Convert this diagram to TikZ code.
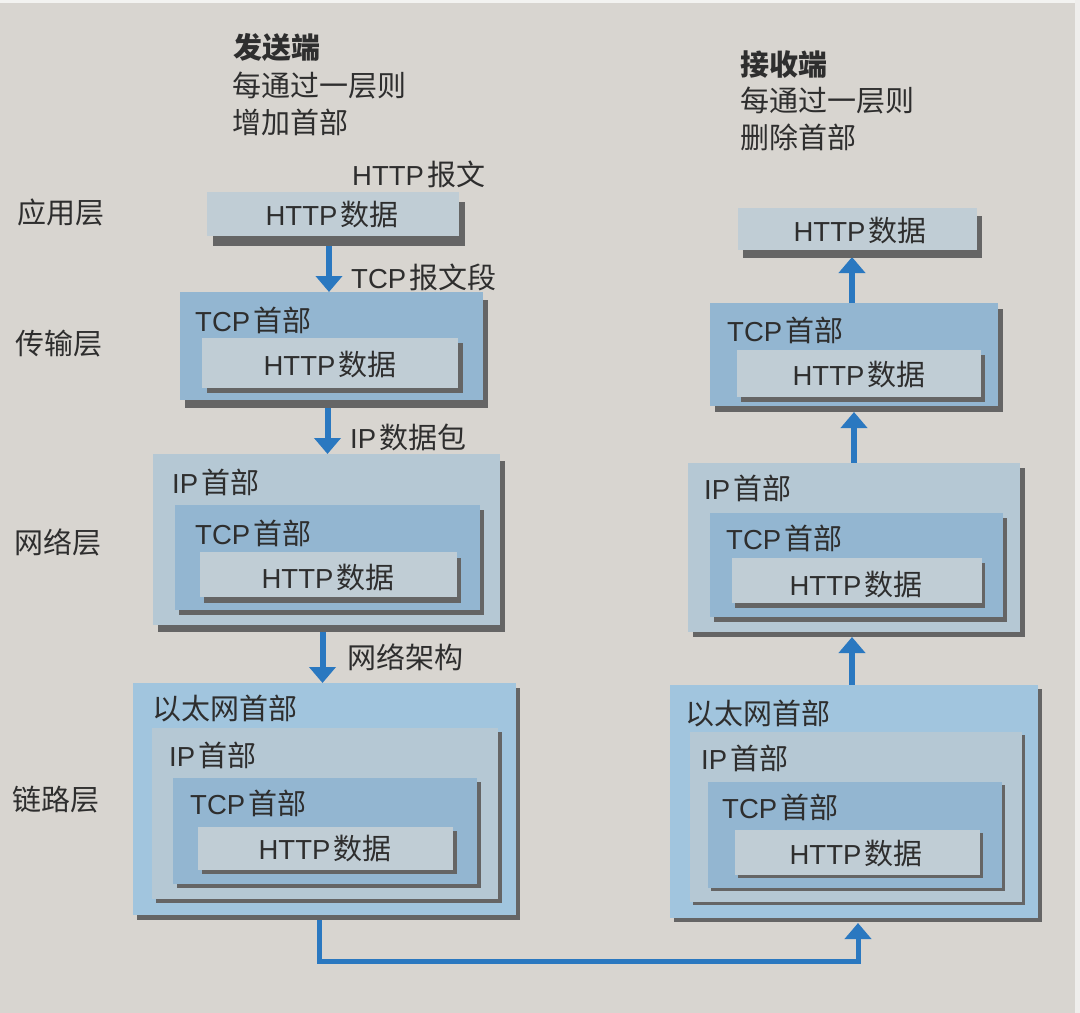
\documentclass[tikz,border=0pt]{standalone}
\usepackage{fontspec}
\setmainfont{Noto Sans CJK SC}
\newfontfamily\latf{Liberation Sans}
\usetikzlibrary{arrows.meta,calc}
\definecolor{bgc}{HTML}{D8D5D0}
\definecolor{shc}{HTML}{656565}
\definecolor{httpc}{HTML}{C0CDD5}
\definecolor{tcpc}{HTML}{93B6D1}
\definecolor{ipc}{HTML}{B5C8D4}
\definecolor{ethc}{HTML}{A1C5DE}
\definecolor{arrc}{HTML}{2A78C0}
\definecolor{txtc}{HTML}{2E2E2E}
\pgfdeclarelayer{back}
\pgfdeclarelayer{bg}
\pgfsetlayers{back,bg,main}
\newcommand\lt[1]{{\latf\fontsize{27.5}{31}\selectfont #1}}
% name, x1, y1, x2, y2, fill, shadow dx, shadow dy
\newcommand\pbox[8]{%
  \fill[shc] ({#2+#7},{#3+#8}) rectangle ({#4+#7},{#5+#8});
  \node[box, fill=#6, minimum width={(#4-#2)*1pt}, minimum height={(#5-#3)*1pt}, anchor=north west] (#1) at (#2,#3) {};
}
\begin{document}
\begin{tikzpicture}[x=1pt,y=-1pt,
  box/.style={draw=none, inner sep=0pt, outer sep=0pt},
  lbl/.style={text=txtc, inner sep=0pt, font=\fontsize{29}{34}\selectfont},
  arr/.style={arrc, line width=6pt, -{Triangle[width=26pt,length=16pt]}},
  conn/.style={arrc, line width=5pt, -{Triangle[width=26pt,length=16pt]}}]
\useasboundingbox (0,0) rectangle (1080,1013);
\begin{pgfonlayer}{back}
  \fill[bgc] (0,0) rectangle (1080,1013);
  \fill[white!70!bgc] (0,0) rectangle (1080,3);
  \fill[white!60!bgc] (1075,0) rectangle (1080,1013);
\end{pgfonlayer}

% ---- sender header texts
\node[lbl, anchor=west] (snd1) at (233,48) {\bfseries 发送端};
\node[lbl, anchor=west] (snd2) at (232,86) {每通过一层则};
\node[lbl, anchor=west] (snd3) at (232,122) {增加首部};
\node[lbl, anchor=west] (msg) at (352,174) {\lt{HTTP}\hspace{3pt}报文};

% ---- receiver header texts
\node[lbl, anchor=west] (rcv1) at (740,65) {\bfseries 接收端};
\node[lbl, anchor=west] (rcv2) at (740,101) {每通过一层则};
\node[lbl, anchor=west] (rcv3) at (740,137) {删除首部};

% ---- layer names
\node[lbl, anchor=west] (lay1) at (17,212) {应用层};
\node[lbl, anchor=west] (lay2) at (15,344) {传输层};
\node[lbl, anchor=west] (lay3) at (14,542) {网络层};
\node[lbl, anchor=west] (lay4) at (12,800) {链路层};

% ---- left column boxes
\pbox{L1}{207}{192}{459}{236}{httpc}{6}{10}
\node[lbl] (L1t) at (332,215) {\lt{HTTP}\hspace{3pt}数据};

\pbox{L2}{180}{292}{483}{400}{tcpc}{5}{8}
\pbox{L2h}{202}{338}{458}{388}{httpc}{5}{5}
\node[lbl, anchor=west] (L2a) at (195,320) {\lt{TCP}\hspace{3pt}首部};
\node[lbl] (L2b) at (330,365) {\lt{HTTP}\hspace{3pt}数据};

\pbox{L3}{153}{454}{500}{625}{ipc}{5}{7}
\pbox{L3t}{175}{505}{480}{610}{tcpc}{4}{5}
\pbox{L3h}{200}{552}{457}{597}{httpc}{4}{6}
\node[lbl, anchor=west] (L3a) at (172,482) {\lt{IP}\hspace{3pt}首部};
\node[lbl, anchor=west] (L3b) at (195,533) {\lt{TCP}\hspace{3pt}首部};
\node[lbl] (L3c) at (328,577) {\lt{HTTP}\hspace{3pt}数据};

\pbox{L4}{133}{683}{516}{915}{ethc}{4}{5}
\pbox{L4i}{152}{728}{498}{899}{ipc}{4}{4}
\pbox{L4t}{173}{778}{477}{884}{tcpc}{4}{4}
\pbox{L4h}{198}{827}{453}{870}{httpc}{4}{4}
\node[lbl, anchor=west] (L4a) at (152,708) {以太网首部};
\node[lbl, anchor=west] (L4b) at (169,755) {\lt{IP}\hspace{3pt}首部};
\node[lbl, anchor=west] (L4c) at (190,803) {\lt{TCP}\hspace{3pt}首部};
\node[lbl] (L4d) at (325,848) {\lt{HTTP}\hspace{3pt}数据};

% ---- right column boxes
\pbox{R1}{738}{208}{977}{250}{httpc}{5}{8}
\node[lbl] (R1t) at (860,231) {\lt{HTTP}\hspace{3pt}数据};

\pbox{R2}{710}{303}{998}{406}{tcpc}{5}{6}
\pbox{R2h}{737}{350}{981}{397}{httpc}{4}{5}
\node[lbl, anchor=west] (R2a) at (727,330) {\lt{TCP}\hspace{3pt}首部};
\node[lbl] (R2b) at (859,375) {\lt{HTTP}\hspace{3pt}数据};

\pbox{R3}{688}{463}{1020}{632}{ipc}{5}{5}
\pbox{R3t}{710}{513}{1003}{617}{tcpc}{4}{5}
\pbox{R3h}{732}{558}{982}{603}{httpc}{3}{5}
\node[lbl, anchor=west] (R3a) at (704,488) {\lt{IP}\hspace{3pt}首部};
\node[lbl, anchor=west] (R3b) at (726,538) {\lt{TCP}\hspace{3pt}首部};
\node[lbl] (R3c) at (856,584) {\lt{HTTP}\hspace{3pt}数据};

\pbox{R4}{670}{685}{1038}{918}{ethc}{4}{4}
\pbox{R4i}{690}{732}{1022}{902}{ipc}{3}{3}
\pbox{R4t}{708}{782}{1002}{888}{tcpc}{3}{3}
\pbox{R4h}{735}{830}{980}{875}{httpc}{3}{3}
\node[lbl, anchor=west] (R4a) at (685,713) {以太网首部};
\node[lbl, anchor=west] (R4b) at (701,758) {\lt{IP}\hspace{3pt}首部};
\node[lbl, anchor=west] (R4c) at (722,807) {\lt{TCP}\hspace{3pt}首部};
\node[lbl] (R4d) at (856,853) {\lt{HTTP}\hspace{3pt}数据};

% ---- arrow labels
\node[lbl, anchor=west] (t1) at (351,277) {\lt{TCP}\hspace{3pt}报文段};
\node[lbl, anchor=west] (t2) at (350,437) {\lt{IP}\hspace{3pt}数据包};
\node[lbl, anchor=west] (t3) at (347,657) {网络架构};

% ---- connectors
\begin{pgfonlayer}{bg}
  \coordinate (a1) at ($(L1.south)+(-4,0)$);
  \draw[arr] (a1) -- (a1 |- L2.north);
  \coordinate (a2) at ($(L2.south)+(-4,0)$);
  \draw[arr] (a2) -- (a2 |- L3.north);
  \coordinate (a3) at ($(L3.south)+(-4,0)$);
  \draw[arr] (a3) -- (a3 |- L4.north);

  \coordinate (b1) at ($(R2.north)+(-2,0)$);
  \draw[arr] (b1) -- ($(b1 |- R1.south)+(0,7)$);
  \coordinate (b2) at ($(R3.north)+(0,0)$);
  \draw[arr] (b2) -- ($(b2 |- R2.south)+(0,6)$);
  \coordinate (b3) at ($(R4.north)+(-2,0)$);
  \draw[arr] (b3) -- ($(b3 |- R3.south)+(0,5)$);

  \coordinate (c0) at ($(L4.south)+(-5,0)$);
  \coordinate (c1) at ($(R4.south)+(4,5)$);
  \draw[conn] (c0) -- ++(0,46) -| (c1);
\end{pgfonlayer}
\end{tikzpicture}
\end{document}
